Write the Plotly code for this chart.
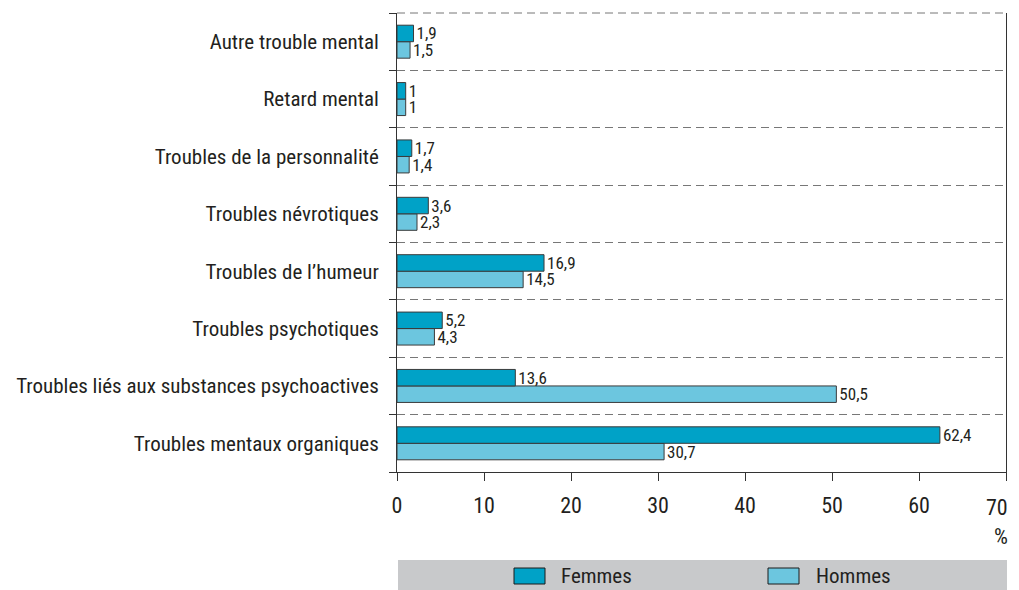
import plotly.graph_objects as go

categories = [
    "Troubles mentaux organiques",
    "Troubles liés aux substances psychoactives",
    "Troubles psychotiques",
    "Troubles de l’humeur",
    "Troubles névrotiques",
    "Troubles de la personnalité",
    "Retard mental",
    "Autre trouble mental",
]
femmes = [62.4, 13.6, 5.2, 16.9, 3.6, 1.7, 1, 1.9]
hommes = [30.7, 50.5, 4.3, 14.5, 2.3, 1.4, 1, 1.5]
x_ticks = [0, 10, 20, 30, 40, 50, 60, 70]
legend_names = ["Femmes", "Hommes"]

FONT = "Roboto Condensed, Liberation Sans Narrow, sans-serif"
TXT = "#231f20"
C_F = "#00a2c7"
C_H = "#6cc6df"
EDGE = "#3a3a3a"

def fmt(v):
    return (f"{v:g}").replace(".", ",")

fig = go.Figure()
fig.add_trace(go.Bar(
    y=categories, x=hommes, name="Hommes", orientation="h",
    marker=dict(color=C_H, line=dict(color=EDGE, width=1)),
    text=[fmt(v) for v in hommes], textposition="outside", constraintext="none",
    textfont=dict(size=17, color=TXT, family=FONT), cliponaxis=False,
    showlegend=False,
))
fig.add_trace(go.Bar(
    y=categories, x=femmes, name="Femmes", orientation="h",
    marker=dict(color=C_F, line=dict(color=EDGE, width=1)),
    text=[fmt(v) for v in femmes], textposition="outside", constraintext="none",
    textfont=dict(size=17, color=TXT, family=FONT), cliponaxis=False,
    showlegend=False,
))

# plot area in page pixels: x 397..1006, y 13..472 (page has an 8px body offset)
PW, PH = 609.0, 459.0
def px_x(x):
    return (x - 397) / PW
def px_y(y):
    return (472 - y) / PH

# last tick label is drawn as an annotation, nudged left so it is not clipped
tick_text = [str(t) for t in x_ticks[:-1]] + [""]

shapes = [
    dict(type="rect", xref="paper", yref="paper", x0=px_x(398), x1=px_x(1007),
         y0=px_y(590), y1=px_y(560), fillcolor="#c8c9cb", line=dict(width=0),
         layer="below"),
    dict(type="line", xref="paper", yref="paper", x0=0, x1=1, y0=1, y1=1,
         line=dict(color="#777", width=1, dash="8px,5px")),
]
annotations = [
    dict(text=str(x_ticks[-1]), xref="paper", yref="paper", x=px_x(1010), y=px_y(507),
         xanchor="right", yanchor="middle", showarrow=False,
         font=dict(size=22, family=FONT, color=TXT)),
    dict(text="%", xref="paper", yref="paper", x=px_x(1010), y=px_y(536),
         xanchor="right", yanchor="middle", showarrow=False,
         font=dict(size=22, family=FONT, color=TXT)),
]
for name, col, bx, tx in zip(legend_names, [C_F, C_H], [514, 768], [559, 814]):
    shapes.append(dict(type="rect", xref="paper", yref="paper",
                       x0=px_x(bx), x1=px_x(bx + 31), y0=px_y(584), y1=px_y(568),
                       fillcolor=col, line=dict(color="#1a1a1a", width=1)))
    annotations.append(dict(text=name, xref="paper", yref="paper",
                            x=px_x(tx), y=px_y(576), xanchor="left", yanchor="middle",
                            showarrow=False,
                            font=dict(size=21, family=FONT, color=TXT)))

fig.update_layout(
    width=1011, height=582,
    margin=dict(l=389, r=13, t=5, b=118, autoexpand=False),
    paper_bgcolor="white", plot_bgcolor="white",
    barmode="group", bargap=0.425, bargroupgap=0,
    font=dict(family=FONT, size=21, color=TXT),
    showlegend=False,
    xaxis=dict(
        range=[0, 70], tickvals=x_ticks, ticktext=tick_text, ticks="outside", ticklen=8,
        tickcolor="#333", showline=True, linecolor="#333", linewidth=1,
        showgrid=False, zeroline=False, tickfont=dict(size=22),
        ticklabelstandoff=6,
    ),
    yaxis=dict(
        type="category", tickson="boundaries", ticks="outside", ticklen=7,
        tickcolor="#333", showline=True, linecolor="#333", linewidth=1,
        mirror=True, showgrid=True, gridcolor="#777", griddash="8px,5px",
        gridwidth=1, tickfont=dict(size=21), ticklabelstandoff=13,
        range=[-0.5, 7.5],
    ),
    shapes=shapes,
    annotations=annotations,
)

fig.write_html("out.html")
